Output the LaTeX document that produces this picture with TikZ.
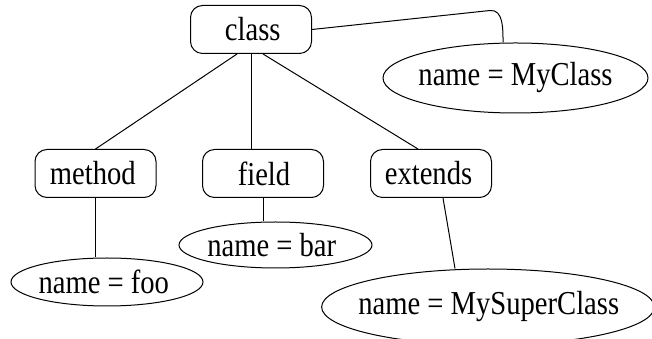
\documentclass[tikz,border=0pt]{standalone}
\usepackage{graphicx}
\usepackage{fontspec}
\setmainfont{Liberation Serif}
\usetikzlibrary{positioning,shapes.geometric}

% labels are set a little taller than the plain font;
% the optional argument moves a label sideways without widening its node
\newcommand{\lbl}[2][0pt]{\hspace{#1}\scalebox{1}[1.17]{#2}\hspace{-#1}}

\begin{document}
\begin{tikzpicture}[x=1pt,y=1pt,line width=1pt,
  elem/.style={draw,rounded corners=12pt,minimum width=121pt,minimum height=48pt,
    inner sep=0pt,font=\fontsize{28.6}{30}\selectfont},
  attr/.style={draw,ellipse,inner sep=0pt,font=\fontsize{28.6}{30}\selectfont}
]
\useasboundingbox (0,0) rectangle (652,339);
%
\node[elem] (class) at (251,309.5) {\lbl[3.5pt]{class}};
\node[attr,inner xsep=-3.5pt,minimum width=265pt,minimum height=70pt] (myclass) at (515.5,261) {\lbl{name = MyClass}};
%
\node[elem] (method) at (95.5,165.5) {\lbl[-5.5pt]{method}};
\node[elem] (field) at (263,165.5) {\lbl[2pt]{field}};
\node[elem] (extends) at (431,165.5) {\lbl[-5pt]{extends}};
%
\node[attr,minimum width=192pt,minimum height=48pt] (foo) at (107,57) {\lbl[-6.5pt]{name = foo}};
\node[attr,minimum width=193pt,minimum height=46pt] (bar) at (275.5,94) {\lbl[-7.5pt]{name = bar}};
\node[attr,inner xsep=-13.5pt,minimum width=331pt,minimum height=76pt] (super) at (488,32) {\lbl[1.5pt]{name = MySuperClass}};
%
\draw (class.east) -- ++(178,19) to[out=5,in=90] ([xshift=-12.5pt]myclass.north);
\draw ([xshift=-14pt]class.south) -- (method.north);
\draw (class.south) -- (class.south |- field.north);
\draw ([xshift=12pt]class.south) -- ([xshift=-13pt]extends.north);
%
\draw (method.south) -- (method.south |- foo.north);
\draw (field.south) -- (field.south |- bar.north);
\draw ([xshift=12pt]extends.south) -- ([xshift=-33pt]super.north);
\end{tikzpicture}
\end{document}
